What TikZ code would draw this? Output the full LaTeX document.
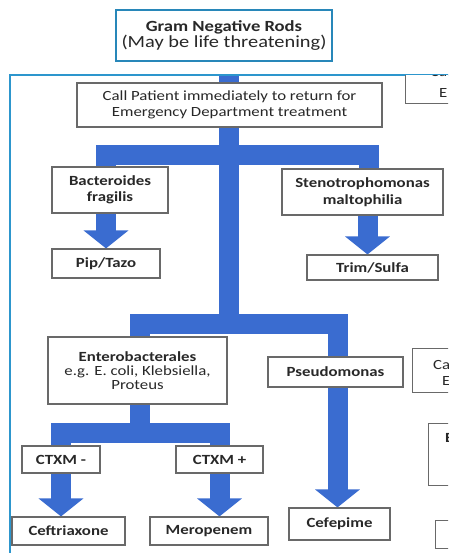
\documentclass[tikz,border=0pt]{standalone}
\usepackage{fontspec}
\setmainfont[FakeStretch=1.2]{Carlito}
\usetikzlibrary{arrows.meta}
\pgfdeclarelayer{bg}
\pgfsetlayers{bg,main}
\definecolor{framec}{RGB}{45,150,205}
\definecolor{titlec}{RGB}{40,135,185}
\definecolor{connc}{RGB}{58,108,208}
\definecolor{boxc}{RGB}{105,105,105}
\definecolor{txtc}{RGB}{40,40,40}
\begin{document}
\begin{tikzpicture}[x=1pt,y=-1pt,
  box/.style={draw=boxc, line width=1.1pt, fill=white, inner sep=0pt, align=center,
    text=txtc, font=\fontsize{14}{16.5}\selectfont},
  bbox/.style={box, font=\fontsize{14}{16.5}\selectfont\bfseries},
  titlebox/.style={draw=titlec, line width=1.6pt, fill=white, inner sep=0pt, align=center, text=txtc},
  conn/.style={draw=connc, line width=20pt, line join=miter},
  barrow/.style={draw=connc, line width=20pt, -{Triangle[length=18pt 0 0,width=44pt 0 0]}},
  frag/.style={text=txtc, inner sep=0pt, anchor=west, font=\fontsize{14}{16.5}\selectfont},
]
\useasboundingbox (0,0) rectangle (448,553);
\clip (0,0) rectangle (448,553);

% outer frame
\draw[framec, line width=1.8pt] (10,75) rectangle (480,600);

% title
\node[titlebox, minimum width=216pt, minimum height=51pt] (title) at (224,35.5)
  {\fontsize{15.5}{24}\selectfont\bfseries Gram Negative Rods\\
   \fontsize{17}{24}\selectfont\mdseries (May be life threatening)};

% boxes
\node[box, minimum width=305pt, minimum height=44pt] (call) at (229.5,105)
  {Call Patient immediately to return for\\Emergency Department treatment};
\node[bbox, minimum width=116pt, minimum height=46pt] (bact) at (110,190) {Bacteroides\\fragilis};
\node[bbox, minimum width=108pt, minimum height=29pt] (pip) at (106,263.5) {Pip/Tazo};
\node[bbox, minimum width=161pt, minimum height=46pt] (steno) at (362.5,192) {Stenotrophomonas\\maltophilia};
\node[bbox, minimum width=131pt, minimum height=25pt] (trim) at (372.5,267.5) {Trim/Sulfa};
\node[box, minimum width=179pt, minimum height=67pt, font=\fontsize{14}{14}\selectfont] (entero) at (137.5,370.5)
  {\textbf{Enterobacterales}\\e.g. E. coli, Klebsiella,\\Proteus};
\node[bbox, minimum width=135pt, minimum height=30pt] (pseudo) at (335.5,372) {Pseudomonas};
\node[bbox, minimum width=78pt, minimum height=27pt] (ctxmm) at (61,459.5) {CTXM -};
\node[bbox, minimum width=87pt, minimum height=27pt] (ctxmp) at (219.5,459.5) {CTXM +};
\node[bbox, minimum width=113pt, minimum height=28pt] (ceftri) at (68.5,531) {Ceftriaxone};
\node[bbox, minimum width=118pt, minimum height=28pt] (mero) at (209,531) {Meropenem};
\node[bbox, minimum width=101pt, minimum height=32pt] (cefe) at (339.5,524) {Cefepime};

% junction points
\coordinate (top) at (229,75);
\coordinate (j1) at (229,155);
\coordinate (j2) at (229,324);
\coordinate (j3) at (140,433);

\begin{pgfonlayer}{bg}
  \draw[conn] (top) -- (j2);
  \draw[conn] ([xshift=-4.5pt]bact.north) |- (j1) -| ([xshift=6.5pt]steno.north);
  \draw[conn] ([xshift=2.5pt]entero.north) |- (j2) -| ([xshift=2pt]pseudo.north);
  \draw[conn] ([xshift=2.5pt]entero.south) -- (j3);
  \draw[conn] (ctxmm.north) |- (j3) -| (ctxmp.north);
  \draw[barrow] (pip.north |- bact.south) -- (pip.north);
  \draw[barrow] ([xshift=5pt]steno.south) -- ([xshift=5pt]steno.south |- trim.north);
  \draw[barrow] (ctxmm.south) -- (ctxmm.south |- ceftri.north);
  \draw[barrow] (ctxmp.south) -- (ctxmp.south |- mero.north);
  \draw[barrow] ([xshift=2pt]pseudo.south) -- ([xshift=2pt]pseudo.south |- cefe.north);
\end{pgfonlayer}

% partial boxes at the right edge, cut by the frame
\begin{scope}
  \clip (11,76) rectangle (448,553);
  \node[box, minimum width=80pt, minimum height=45pt, anchor=north west] (r1) at (405,58) {};
  \node[frag] (r1a) at (430,72) {Ca};
  \node[frag] (r1b) at (439,93) {E};
  \node[box, minimum width=80pt, minimum height=44pt, anchor=north west] (r2) at (412,348) {};
  \node[frag] (r2a) at (433,365) {Ca};
  \node[frag] (r2b) at (442,381) {E};
  \node[box, minimum width=80pt, minimum height=62pt, anchor=north west] (r3) at (428,423) {};
  \node[frag, font=\fontsize{14}{16.5}\selectfont\bfseries] (r3a) at (445,438) {E};
  \node[box, minimum width=80pt, minimum height=28pt, anchor=north west] (r4) at (435,520) {};
\end{scope}
\end{tikzpicture}
\end{document}
